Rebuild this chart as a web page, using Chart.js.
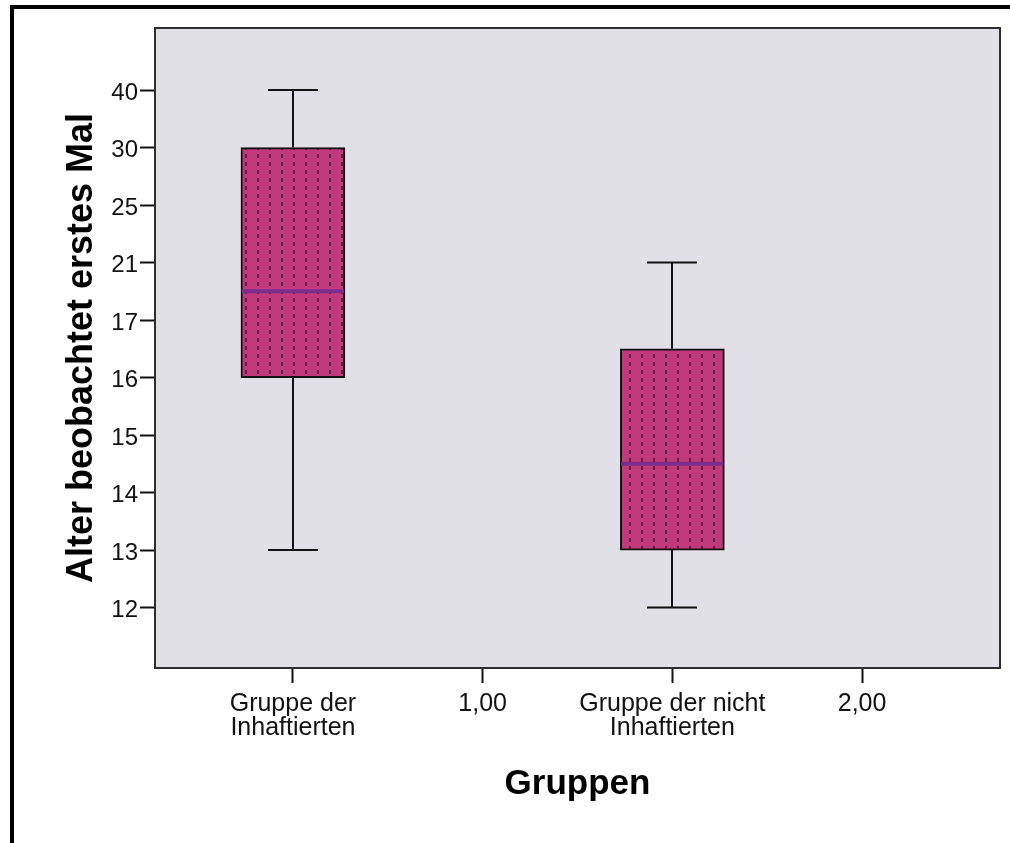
<!DOCTYPE html>
<html><head><meta charset="utf-8">
<script src="https://cdn.jsdelivr.net/npm/chart.js@4.4.0/dist/chart.umd.min.js"></script>
<style>
html,body{margin:0;padding:0;background:#fff;}
#wrap{position:relative;width:1010px;height:843px;overflow:hidden;}
#c{position:absolute;left:0;top:0;}
#frame{position:absolute;left:10px;top:5px;right:-10px;bottom:-10px;border-top:4px solid #000;border-left:4px solid #000;pointer-events:none;}
</style></head>
<body><div id="wrap"><canvas id="c" width="1010" height="843"></canvas><div id="frame"></div></div>
<script>
// ---- data ----
const xCategories = [['Gruppe der','Inhaftierten'], ['1,00'], ['Gruppe der nicht','Inhaftierten'], ['2,00']];
const yTickLabels = ['12','13','14','15','16','17','21','25','30','40'];
const boxPositions = [0, 2];
const whiskerLow  = [13, 12];
const quartile1   = [16, 13];
const medians     = [19, 14.5];
const quartile3   = [30, 16.5];
const whiskerHigh = [40, 21];
const xTitle = 'Gruppen';
const yTitle = 'Alter beobachtet erstes Mal';

// ---- ordinal mapping (axis ticks are evenly spaced categories) ----
const yTickValues = yTickLabels.map(Number);
function ordinal(v){
  for (let i=0;i<yTickValues.length-1;i++){
    const a=yTickValues[i], b=yTickValues[i+1];
    if (v>=a && v<=b) return i + (v-a)/(b-a);
  }
  return v < yTickValues[0] ? 0 : yTickValues.length-1;
}

const canvas = document.getElementById('c');
const pc = document.createElement('canvas'); pc.width = 12; pc.height = 8;
const pctx = pc.getContext('2d');
pctx.fillStyle = '#C23A7B'; pctx.fillRect(0,0,12,8);
pctx.fillStyle = '#5E1D40'; pctx.fillRect(5,2,2,4);
const pattern = canvas.getContext('2d').createPattern(pc, 'repeat');

const FONT = "'Liberation Sans', Arial, sans-serif";

const boxPlugin = {
  id: 'boxplot',
  beforeDraw(chart){
    const {ctx, chartArea:a} = chart;
    ctx.save(); ctx.fillStyle = '#E1E0E6'; ctx.fillRect(a.left, a.top, a.width, a.height); ctx.restore();
  },
  beforeDatasetsDraw(chart){
    const {ctx, scales:{x, y}} = chart;
    ctx.save();
    ctx.strokeStyle = '#111'; ctx.lineWidth = 2;
    boxPositions.forEach((p, i) => {
      const px = Math.round(x.getPixelForValue(p));
      const yLo = y.getPixelForValue(ordinal(whiskerLow[i]));
      const yQ1 = y.getPixelForValue(ordinal(quartile1[i]));
      const yQ3 = y.getPixelForValue(ordinal(quartile3[i]));
      const yHi = y.getPixelForValue(ordinal(whiskerHigh[i]));
      ctx.beginPath();
      ctx.moveTo(px, yHi); ctx.lineTo(px, yQ3);
      ctx.moveTo(px, yQ1); ctx.lineTo(px, yLo);
      ctx.moveTo(px-25, yHi); ctx.lineTo(px+25, yHi);
      ctx.moveTo(px-25, yLo); ctx.lineTo(px+25, yLo);
      ctx.stroke();
    });
    ctx.restore();
  },
  afterDatasetsDraw(chart){
    const {ctx, scales:{y}} = chart;
    const meta = chart.getDatasetMeta(0);
    ctx.save();
    ctx.strokeStyle = '#7B2C8C'; ctx.lineWidth = 4;
    boxPositions.forEach((p, i) => {
      const el = meta.data[i];
      const {x: cx, width} = el.getProps(['x','width'], true);
      const ym = y.getPixelForValue(ordinal(medians[i]));
      ctx.beginPath(); ctx.moveTo(cx - width/2 + 1, ym); ctx.lineTo(cx + width/2 - 1, ym); ctx.stroke();
    });
    ctx.restore();
  },
  afterDraw(chart){
    const {ctx, chartArea:a} = chart;
    ctx.save(); ctx.strokeStyle = '#2E2E2E'; ctx.lineWidth = 2;
    ctx.strokeRect(a.left, a.top, a.width, a.height);
    ctx.restore();
  }
};

new Chart(canvas, {
  type: 'bar',
  data: {
    datasets: [{
      data: boxPositions.map((p, i) => ({x: p, y: [ordinal(quartile1[i]), ordinal(quartile3[i])]})),
      backgroundColor: pattern,
      borderColor: '#111',
      borderWidth: 2,
      borderSkipped: false,
      barThickness: 104,
      grouped: false
    }]
  },
  plugins: [boxPlugin],
  options: {
    responsive: false,
    devicePixelRatio: 1,
    animation: false,
    layout: {padding: {top: 28, right: 10, left: 0, bottom: 0}},
    plugins: {legend: {display: false}, tooltip: {enabled: false}},
    scales: {
      x: {
        type: 'linear', min: -0.727, max: 3.727, offset: false,
        afterBuildTicks: ax => { ax.ticks = xCategories.map((_, i) => ({value: i})); },
        afterFit: ax => { ax.height = 175; },
        ticks: {
          autoSkip: false, maxRotation: 0, minRotation: 0,
          callback: v => xCategories[v],
          font: {family: FONT, size: 25, lineHeight: 0.96},
          color: '#111', padding: 9
        },
        grid: {offset: false, drawOnChartArea: false, drawTicks: true, tickLength: 15, tickWidth: 2, tickColor: '#111'},
        border: {display: false},
        title: {display: true, text: xTitle, color: '#000',
          font: {family: FONT, size: 35, weight: 'bold', lineHeight: 1.0},
          padding: {top: 0, bottom: 41}}
      },
      y: {
        type: 'linear', min: -1.05, max: 10.08,
        afterBuildTicks: ax => { ax.ticks = yTickLabels.map((_, i) => ({value: i})); },
        afterFit: ax => { ax.width = 155; },
        ticks: {
          autoSkip: false,
          callback: v => yTickLabels[v],
          font: {family: FONT, size: 24, lineHeight: 1.0},
          color: '#111', padding: 2, labelOffset: 3
        },
        grid: {drawOnChartArea: false, drawTicks: true, tickLength: 15, tickWidth: 2, tickColor: '#111'},
        border: {display: false},
        title: {display: true, text: yTitle, color: '#000',
          font: {family: FONT, size: 36, weight: 'bold', lineHeight: 1.0},
          padding: {top: 64, bottom: 0}}
      }
    }
  }
});
</script>
</body></html>
